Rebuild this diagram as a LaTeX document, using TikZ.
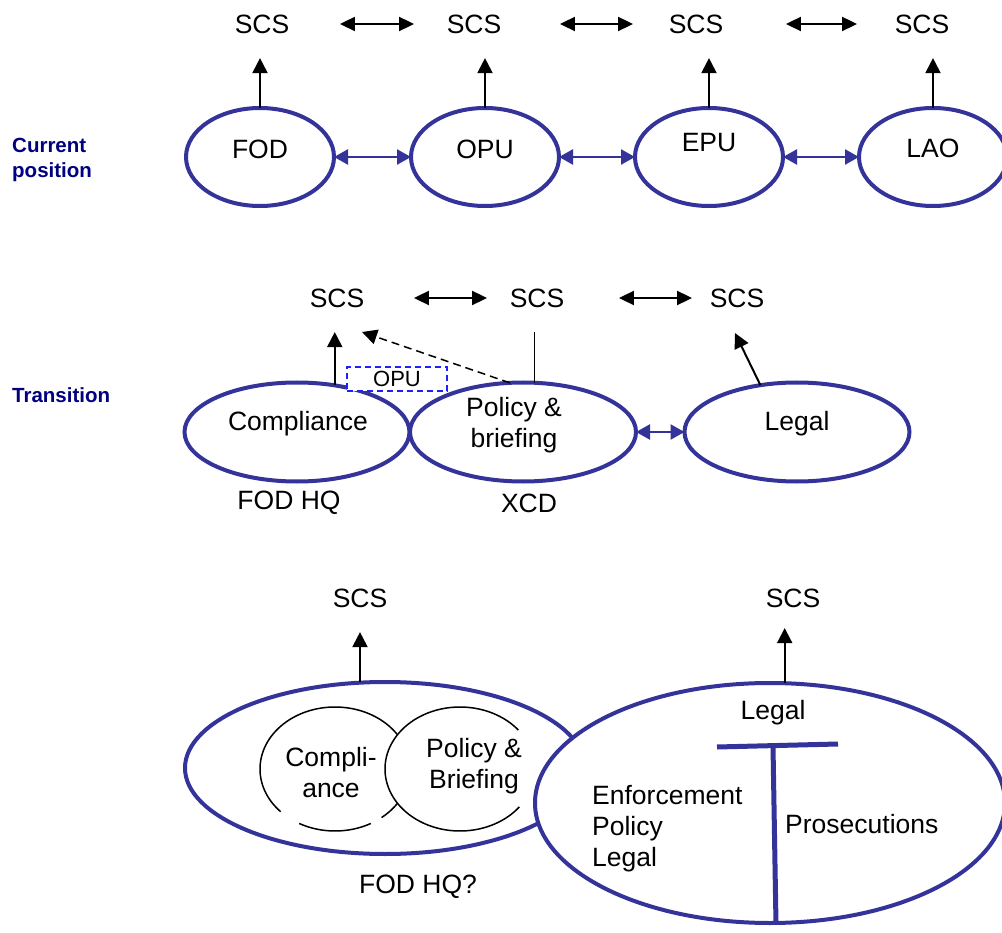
\documentclass[tikz,border=0pt]{standalone}
\usepackage{fontspec}
\setmainfont{Liberation Sans}
\usepackage{tikz}
\usetikzlibrary{calc}
\usetikzlibrary{arrows.meta}
\usetikzlibrary{shapes.geometric}
\definecolor{ovalblue}{RGB}{51, 51, 153}
\definecolor{headnavy}{RGB}{0, 0, 128}
\definecolor{dashblue}{RGB}{30, 30, 255}

\tikzset{
  unit/.style={ellipse, draw=ovalblue, line width=4pt, fill=white, inner sep=0pt, outer sep=0pt},
  txt/.style={font=\fontsize{26.5}{31}\selectfont, inner sep=0pt, align=center},
  heading/.style={font=\fontsize{20.5}{25}\selectfont\bfseries, text=headnavy, inner sep=0pt, align=left, anchor=west},
  upline/.style={line width=2pt, -{Triangle[width=15pt,length=15pt]}},
  scslink/.style={line width=2pt, {Triangle[width=14pt,length=15pt]}-{Triangle[width=14pt,length=15pt]}},
  peer/.style={line width=2.5pt, draw=ovalblue, {Triangle[width=15pt,length=14pt]}-{Triangle[width=15pt,length=14pt]}},
  subunit/.style={line width=1.5pt},
  tbar/.style={line width=5pt, draw=ovalblue},
}

\begin{document}
\begin{tikzpicture}[x=1pt, y=-1pt]
            \useasboundingbox (0,0) rectangle (1002,933);
            % Current position
            \node[heading] (curhead) at (12,160) {Current\\position};
            \node[unit, minimum width=148pt, minimum height=98pt] (fod) at (260,157) {};
            \node[unit, minimum width=148pt, minimum height=98pt] (opu) at (485,157) {};
            \node[unit, minimum width=148pt, minimum height=98pt] (epu) at (709,157) {};
            \node[unit, minimum width=148pt, minimum height=98pt] (lao) at (933,157) {};
            \node[txt] (fodtxt) at (260,149) {FOD};
            \node[txt] (oputxt) at (485,149) {OPU};
            \node[txt] (eputxt) at (709,143) {EPU};
            \node[txt] (laotxt) at (933,148) {LAO};
            \node[txt] (scsa) at (262,24)  {SCS};
            \node[txt] (scsb) at (474,24)  {SCS};
            \node[txt] (scsc) at (696,24)  {SCS};
            \node[txt] (scsd) at (922,24)  {SCS};
            \draw[upline, shorten >=24.5pt] (fod.north) -- (fod.north |- scsa.south);
            \draw[upline, shorten >=24.5pt] (opu.north) -- (opu.north |- scsb.south);
            \draw[upline, shorten >=24.5pt] (epu.north) -- (epu.north |- scsc.south);
            \draw[upline, shorten >=24.5pt] (lao.north) -- (lao.north |- scsd.south);
            \draw[scslink, shorten <=50.5pt, shorten >=32.5pt] (scsa.east) -- (scsb.west);
            \draw[scslink, shorten <=58.5pt, shorten >=35.5pt] (scsb.east) -- (scsc.west);
            \draw[scslink, shorten <=62.5pt, shorten >=37.5pt] (scsc.east) -- (scsd.west);
            \draw[peer] (fod.east) -- (opu.west);
            \draw[peer] (opu.east) -- (epu.west);
            \draw[peer] (epu.east) -- (lao.west);

            % Transition
            \node[heading] (transhead) at (12,395) {Transition};
            \node[unit, minimum width=225pt, minimum height=99pt] (comp)  at (297,432) {};
            \node[unit, minimum width=226pt, minimum height=99pt] (pol)   at (523,432) {};
            \node[unit, minimum width=225pt, minimum height=99pt] (legal) at (797,432) {};
            \node[txt] (comptxt)  at (298,424) {Compliance};
            \node[txt] (poltxt)   at (514,425) {Policy \&\\briefing};
            \node[txt] (legaltxt) at (797,424) {Legal};
            \node[txt] (fodhq) at (289,503) {FOD HQ};
            \node[txt] (xcd)   at (529,503) {XCD};
            \node[txt] (scse) at (337,298) {SCS};
            \node[txt] (scsf) at (537,298) {SCS};
            \node[txt] (scsg) at (737,298) {SCS};
            \coordinate (dashend)  at (362,332);
            \coordinate (legalend) at (735,333);
            \draw[scslink, shorten <=49.5pt, shorten >=22.5pt] (scse.east) -- (scsf.west);
            \draw[scslink, shorten <=54.5pt, shorten >=17.5pt] (scsf.east) -- (scsg.west);
            \draw[upline, shorten >=24.5pt] (comp.51) -- (comp.51 |- scse.south);
            \draw[subunit, shorten >=24.5pt] (pol.77) -- (pol.77 |- scsf.south);
            \draw[upline, line width=1.5pt, dash pattern=on 8pt off 5pt] (pol.105) -- (dashend);
            \draw[upline] (legal.128) -- (legalend);
            \draw[peer] (pol.east) -- (legal.west);
            \node[draw=dashblue, line width=1.5pt, dash pattern=on 6pt off 4pt, fill=white,
                  minimum width=100pt, minimum height=24pt, inner sep=0pt,
                  font=\fontsize{22}{25}\selectfont] (opubox) at (397,379) {OPU};

            % Merged
            \node[unit, minimum width=400pt, minimum height=172pt] (hq) at (385,768) {};
            \draw[subunit] (335,769) ++(61.5:75 and 62)  arc[start angle=61.5,  end angle=118.5, x radius=75, y radius=62];
            \draw[subunit] (335,769) ++(136.4:75 and 62) arc[start angle=136.4, end angle=411.6, x radius=75, y radius=62];
            \fill[white]   (460,769) ellipse [x radius=75, y radius=62];
            \draw[subunit] (460,769) ++(37.8:75 and 62)  arc[start angle=37.8,  end angle=321.1, x radius=75, y radius=62];
            \node[unit, minimum width=470pt, minimum height=240pt] (legalhq) at (770,803) {};
            \draw[tbar] (717,747) -- (838,744);
            \draw[tbar] (773,746) -- (776,924);
            \node[txt] (compsub) at (331,773) {Compli-\\ance};
            \node[txt] (polsub)  at (474,766) {Policy \&\\Briefing};
            \node[txt] (fodhqq)  at (418,887) {FOD HQ?};
            \node[txt] (legalsub) at (773,713) {Legal};
            \node[txt, align=left, anchor=west] (enfsub) at (592,829) {Enforcement\\Policy\\Legal};
            \node[txt, anchor=west] (prossub) at (785,824) {Prosecutions};
            \node[txt] (scsh) at (360,598) {SCS};
            \node[txt] (scsi) at (793,598) {SCS};
            \draw[upline, shorten >=24.5pt] (scsh |- hq.north) -- (scsh.south);
            \draw[upline, shorten >=20.5pt] (legalhq.83) -- (legalhq.83 |- scsi.south);
        \end{tikzpicture}
\end{document}
